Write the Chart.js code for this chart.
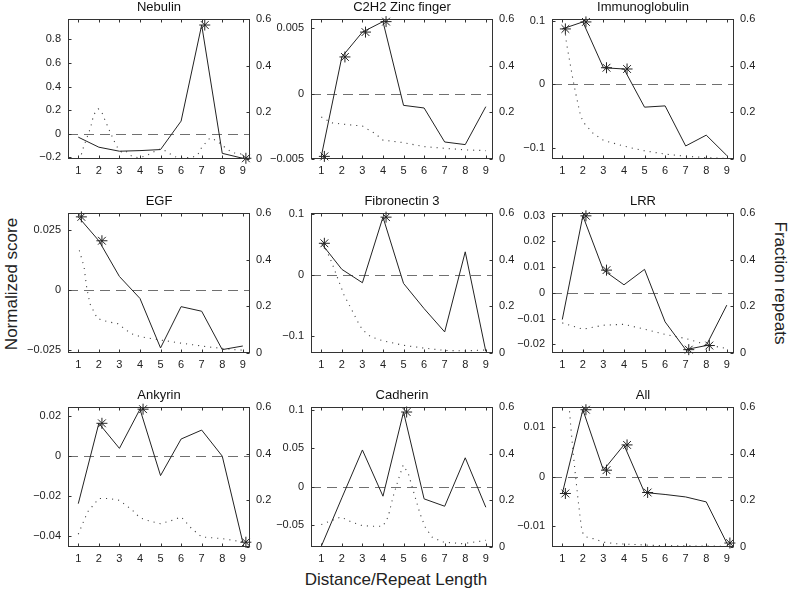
<!DOCTYPE html>
<html>
<head>
<meta charset="utf-8">
<script src="https://cdn.jsdelivr.net/npm/chart.js@4.4.1/dist/chart.umd.min.js"></script>
<style>
  body { margin: 0; background: #fff; font-family: "Liberation Sans", Arial, sans-serif; }
  #page { position: relative; width: 794px; height: 597px; overflow: hidden; background: #fff; }
  #page canvas { position: absolute; }
  .axis-label { position: absolute; font-size: 17px; color: #222; white-space: nowrap; transform-origin: center; }
</style>
</head>
<body>
<div id="page">
  <div class="axis-label" style="left:12px;top:284px;transform:translate(-50%,-50%) rotate(-90deg)">Normalized score</div>
  <div class="axis-label" style="left:780px;top:283px;transform:translate(-50%,-50%) rotate(90deg)">Fraction repeats</div>
  <div class="axis-label" style="left:396px;top:580px;transform:translate(-50%,-50%)">Distance/Repeat Length</div>
</div>
<script>
// ---- data ----
const distance = [1, 2, 3, 4, 5, 6, 7, 8, 9];
const fracTicks = [0, 0.2, 0.4, 0.6];

const titles = ['Nebulin', 'C2H2 Zinc finger', 'Immunoglobulin', 'EGF', 'Fibronectin 3', 'LRR', 'Ankyrin', 'Cadherin', 'All'];

// normalized score (solid line, left axis)
const nebulinScore  = [-0.028, -0.113, -0.147, -0.142, -0.133, 0.108, 0.922, -0.165, -0.207];
const zincScore     = [-0.0048, 0.0028, 0.0047, 0.0055, -0.0009, -0.0011, -0.0037, -0.0039, -0.001];
const immunoScore   = [0.087, 0.098, 0.026, 0.024, -0.036, -0.034, -0.097, -0.080, -0.112];
const egfScore      = [0.0303, 0.0204, 0.0056, -0.0035, -0.024, -0.0069, -0.0088, -0.0247, -0.0232];
const fibroScore    = [0.052, 0.0093, -0.0126, 0.0948, -0.0137, -0.055, -0.0932, 0.038, -0.125];
const lrrScore      = [-0.0104, 0.0299, 0.0088, 0.0031, 0.0091, -0.0113, -0.0221, -0.0205, -0.0048];
const ankyrinScore  = [-0.0239, 0.0165, 0.0039, 0.0236, -0.0098, 0.0086, 0.0131, 0, -0.0433];
const cadherinScore = [-0.0785, -0.0149, 0.048, -0.0127, 0.0978, -0.0162, -0.0259, 0.0377, -0.0272];
const allScore      = [-0.0034, 0.0135, 0.0013, 0.0064, -0.0032, -0.0036, -0.0041, -0.0051, -0.0134];

// distances marked with an asterisk
const nebulinStars  = [7, 9];
const zincStars     = [1, 2, 3, 4];
const immunoStars   = [1, 2, 3, 4];
const egfStars      = [1, 2];
const fibroStars    = [1, 4];
const lrrStars      = [2, 3, 7, 8];
const ankyrinStars  = [2, 4, 9];
const cadherinStars = [5];
const allStars      = [1, 2, 3, 4, 5, 9];

// fraction repeats (dotted line, right axis) as [distance, fraction]
const nebulinFrac = [[1.15,0.02],[1.25,0.05],[1.6,0.135],[1.75,0.19],[1.97,0.215],[2.12,0.205],[2.45,0.135],[2.85,0.056],[3.1,0.03],[3.3,0.035],[3.6,0.012],[3.9,0.006],[4.3,0.013],[4.9,0.042],[5.1,0.042],[5.5,0.02],[5.8,0.006],[6.5,0.006],[6.8,0.016],[7.0,0.05],[7.4,0.09],[7.7,0.08],[8.2,0.045],[8.5,0.027],[9.05,0.02]];
const zincFrac = [[1,0.18],[1.5,0.155],[2,0.15],[3,0.141],[3.6,0.11],[4,0.081],[5,0.07],[6,0.053],[7,0.046],[8,0.039],[9,0.036]];
const immunoFrac = [[1.12,0.56],[1.2,0.5],[1.36,0.42],[1.52,0.34],[1.68,0.27],[1.85,0.2],[2,0.16],[2.5,0.11],[3,0.08],[4,0.055],[5,0.035],[6,0.021],[7,0.012],[8,0.006],[9,0.002]];
const egfFrac = [[1.05,0.44],[1.28,0.37],[1.41,0.28],[1.57,0.21],[1.93,0.148],[2.42,0.134],[2.91,0.126],[3.57,0.083],[4.06,0.069],[5.04,0.055],[6.18,0.04],[7.32,0.026],[8.63,0.014],[9,0.012]];
const fibroFrac = [[1.1,0.47],[1.5,0.39],[1.8,0.32],[2.1,0.25],[2.45,0.19],[2.8,0.13],[3,0.1],[3.4,0.07],[4,0.052],[5,0.033],[6,0.021],[7,0.011],[8,0.009],[9,0.013]];
const lrrFrac = [[1,0.129],[2,0.102],[3,0.119],[4,0.123],[5,0.102],[6,0.08],[7,0.062],[8,0.036],[9,0.019]];
const ankyrinFrac = [[1,0.055],[1.45,0.15],[2,0.208],[2.5,0.208],[3,0.2],[3.6,0.16],[4,0.125],[4.5,0.11],[5,0.1],[5.6,0.115],[6,0.129],[6.5,0.08],[7,0.043],[8,0.036],[9,0.022]];
const cadherinFrac = [[1,0.096],[1.95,0.129],[2.44,0.108],[2.93,0.093],[3.43,0.089],[4,0.089],[4.25,0.129],[4.49,0.215],[4.74,0.287],[4.98,0.351],[5.23,0.315],[5.56,0.215],[5.8,0.143],[6.05,0.086],[6.38,0.043],[6.87,0.022],[7.85,0.014],[8.84,0.026],[9,0.029]];
const allFrac = [[1.3,0.66],[1.36,0.57],[1.44,0.49],[1.52,0.41],[1.65,0.3],[1.76,0.21],[1.85,0.14],[1.93,0.086],[2.01,0.057],[2.17,0.043],[2.5,0.036],[3,0.021],[3.6,0.014],[4.45,0.011],[5.3,0.007],[6,0.006],[7,0.005],[8,0.004],[9,0.003]];

// left axis limits and ticks
const nebulinRange = [-0.213, 0.973],  nebulinTicks = [-0.2, 0, 0.2, 0.4, 0.6, 0.8];
const zincRange = [-0.005, 0.0057],    zincTicks = [-0.005, 0, 0.005];
const immunoRange = [-0.1175, 0.1026], immunoTicks = [-0.1, 0, 0.1];
const egfRange = [-0.0261, 0.0319],    egfTicks = [-0.025, 0, 0.025];
const fibroRange = [-0.1277, 0.1016],  fibroTicks = [-0.1, 0, 0.1];
const lrrRange = [-0.0234, 0.031],     lrrTicks = [-0.02, -0.01, 0, 0.01, 0.02, 0.03];
const ankyrinRange = [-0.0457, 0.0247], ankyrinTicks = [-0.04, -0.02, 0, 0.02];
const cadherinRange = [-0.0794, 0.1044], cadherinTicks = [-0.05, 0, 0.05, 0.1];
const allRange = [-0.0142, 0.01405],   allTicks = [-0.01, 0, 0.01];

const panels = [
  { score: nebulinScore,  stars: nebulinStars,  frac: nebulinFrac,  range: nebulinRange,  ticks: nebulinTicks },
  { score: zincScore,     stars: zincStars,     frac: zincFrac,     range: zincRange,     ticks: zincTicks },
  { score: immunoScore,   stars: immunoStars,   frac: immunoFrac,   range: immunoRange,   ticks: immunoTicks },
  { score: egfScore,      stars: egfStars,      frac: egfFrac,      range: egfRange,      ticks: egfTicks },
  { score: fibroScore,    stars: fibroStars,    frac: fibroFrac,    range: fibroRange,    ticks: fibroTicks },
  { score: lrrScore,      stars: lrrStars,      frac: lrrFrac,      range: lrrRange,      ticks: lrrTicks },
  { score: ankyrinScore,  stars: ankyrinStars,  frac: ankyrinFrac,  range: ankyrinRange,  ticks: ankyrinTicks },
  { score: cadherinScore, stars: cadherinStars, frac: cadherinFrac, range: cadherinRange, ticks: cadherinTicks },
  { score: allScore,      stars: allStars,      frac: allFrac,      range: allRange,      ticks: allTicks },
];

// ---- layout ----
const colLeft = [68, 311, 552];
const rowTop = [19, 213, 407];
const plotW = 182, plotH = 140;
const sideW = 55, topPad = 20, bottomH = 20;

const FONT = '"Liberation Sans", Arial, sans-serif';
const fmt = v => String(v).replace('-', '\u2212');

// matlab style box, inward ticks, dashed zero line and title
const matlabBox = {
  id: 'matlabBox',
  beforeDatasetsDraw(chart) {
    const { ctx, chartArea: a, scales } = chart;
    const y0 = Math.round(scales.y.getPixelForValue(0)) + 0.5;
    ctx.save();
    ctx.strokeStyle = '#707070';
    ctx.lineWidth = 1;
    ctx.setLineDash([10, 6]);
    ctx.beginPath();
    ctx.moveTo(a.left, y0);
    ctx.lineTo(a.right, y0);
    ctx.stroke();
    ctx.restore();
  },
  afterDatasetsDraw(chart, args, opts) {
    const { ctx, chartArea: a, scales } = chart;
    const L = a.left + 0.5, R = a.right - 0.5, T = a.top + 0.5, B = a.bottom - 0.5;
    ctx.save();
    ctx.strokeStyle = '#333';
    ctx.lineWidth = 1;
    ctx.strokeRect(L, T, R - L, B - T);
    ctx.beginPath();
    scales.x.ticks.forEach(t => {
      const x = Math.round(scales.x.getPixelForValue(t.value)) + 0.5;
      ctx.moveTo(x, B); ctx.lineTo(x, B - 3);
      ctx.moveTo(x, T); ctx.lineTo(x, T + 3);
    });
    scales.y.ticks.forEach(t => {
      const y = Math.round(scales.y.getPixelForValue(t.value)) + 0.5;
      ctx.moveTo(L, y); ctx.lineTo(L + 3, y);
    });
    scales.y1.ticks.forEach(t => {
      const y = Math.round(scales.y1.getPixelForValue(t.value)) + 0.5;
      ctx.moveTo(R, y); ctx.lineTo(R - 3, y);
    });
    ctx.stroke();
    // title
    ctx.fillStyle = '#111';
    ctx.font = '13px ' + FONT;
    ctx.textAlign = 'center';
    ctx.textBaseline = 'alphabetic';
    ctx.fillText(opts.text, (a.left + a.right) / 2, a.top - 8);
    ctx.restore();
  }
};

function makePanel(i) {
  const p = panels[i];
  const col = i % 3, row = Math.floor(i / 3);
  const canvas = document.createElement('canvas');
  const w = plotW + 2 * sideW, h = plotH + topPad + bottomH;
  canvas.width = w; canvas.height = h;
  canvas.style.left = (colLeft[col] - sideW) + 'px';
  canvas.style.top = (rowTop[row] - topPad) + 'px';
  canvas.style.width = w + 'px';
  canvas.style.height = h + 'px';
  document.getElementById('page').appendChild(canvas);

  const tickFont = { family: FONT, size: 11 };

  new Chart(canvas, {
    type: 'line',
    data: {
      datasets: [
        {
          data: p.stars.map(d => ({ x: d + 0.15, y: p.score[d - 1] })),
          yAxisID: 'y',
          showLine: false,
          pointStyle: 'star',
          pointRadius: 5.5,
          borderColor: '#222',
          borderWidth: 1,
          clip: false
        },
        {
          data: p.score.map((v, k) => ({ x: distance[k], y: v })),
          yAxisID: 'y',
          borderColor: '#222',
          borderWidth: 1,
          pointRadius: 0,
          tension: 0
        },
        {
          data: p.frac.map(([x, y]) => ({ x, y })),
          yAxisID: 'y1',
          borderColor: '#444',
          borderWidth: 1.1,
          borderDash: [1.1, 5],
          pointRadius: 0,
          tension: 0
        }
      ]
    },
    options: {
      responsive: false,
      animation: false,
      events: [],
      devicePixelRatio: 1,
      layout: { padding: { top: topPad, left: 0, right: 0, bottom: 0 } },
      plugins: {
        legend: { display: false },
        tooltip: { enabled: false },
        matlabBox: { text: titles[i] }
      },
      scales: {
        x: {
          type: 'linear',
          min: 0.5,
          max: 9.35,
          afterBuildTicks: s => { s.ticks = distance.map(v => ({ value: v })); },
          afterFit: s => { s.height = bottomH; },
          grid: { display: false, drawTicks: false },
          border: { display: false },
          ticks: { color: '#222', font: tickFont, padding: 5, maxRotation: 0, autoSkip: false }
        },
        y: {
          position: 'left',
          min: p.range[0],
          max: p.range[1],
          afterBuildTicks: s => { s.ticks = p.ticks.map(v => ({ value: v })); },
          afterFit: s => { s.width = sideW; },
          grid: { display: false, drawTicks: false },
          border: { display: false },
          ticks: { color: '#222', font: tickFont, padding: 7, callback: fmt }
        },
        y1: {
          position: 'right',
          min: 0,
          max: 0.6,
          afterBuildTicks: s => { s.ticks = fracTicks.map(v => ({ value: v })); },
          afterFit: s => { s.width = sideW; },
          grid: { display: false, drawTicks: false },
          border: { display: false },
          ticks: { color: '#222', font: tickFont, padding: 6, callback: fmt }
        }
      }
    },
    plugins: [matlabBox]
  });
}

panels.forEach((p, i) => makePanel(i));
</script>
</body>
</html>
